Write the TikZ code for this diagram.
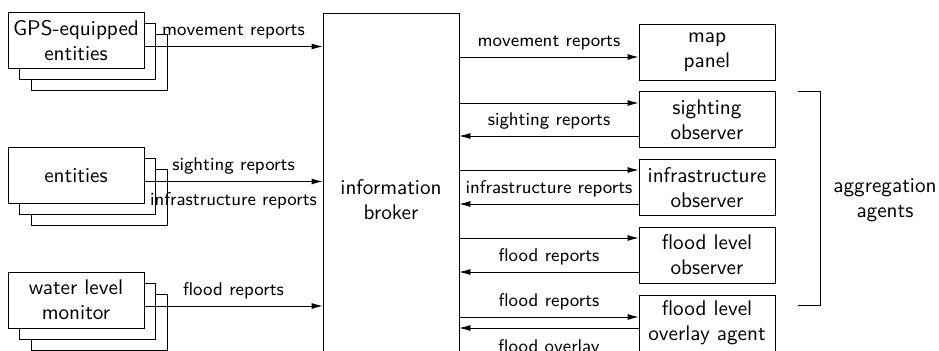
\documentclass[tikz,border=0pt]{standalone}
\usepackage{tikz}
\usetikzlibrary{arrows.meta,shadows}

\begin{document}
\begin{tikzpicture}[x=0.5pt,y=-0.5pt,
    box/.style={draw,fill=white,align=center,minimum width=68pt,minimum height=28pt,inner sep=2pt,font=\sffamily\fontsize{10.6}{12.5}\selectfont},
    stack/.style={box,copy shadow={shadow xshift=11.5pt,shadow yshift=-11pt},copy shadow={shadow xshift=5.75pt,shadow yshift=-5.5pt}},
    msg/.style={-{Latex[length=5.5pt,width=3pt]}},
    lbl/.style={font=\sffamily\fontsize{9.2}{11}\selectfont}]
    \useasboundingbox (0,0) rectangle (939,350);
    \clip (0,0) rectangle (939,350);

    \node[stack] (gps) at (76,40.5) {GPS-equipped\\entities};
    \node[stack] (ent) at (76,175.5) {entities};
    \node[stack] (water) at (76,300) {water level\\monitor};

    \node[box,minimum height=187pt] (broker) at (391,200) {information\\broker};

    \node[box] (map) at (707,52) {map\\panel};
    \node[box] (sight) at (707,119.5) {sighting\\observer};
    \node[box] (infra) at (707,187.5) {infrastructure\\observer};
    \node[box] (flood) at (707,255) {flood level\\observer};
    \node[box] (overlay) at (707,323) {flood level\\overlay agent};

    \draw[msg] ([yshift=-3pt]gps.east) -- ([yshift=-3pt]gps.east -| broker.west) node[lbl,midway,above] {movement reports};
    \draw[msg] ([yshift=-3pt]ent.east) -- ([yshift=-3pt]ent.east -| broker.west) node[lbl,midway,above] {sighting reports} node[lbl,midway,below=2pt] {infrastructure reports};
    \draw[msg] ([yshift=-3pt]water.east) -- ([yshift=-3pt]water.east -| broker.west) node[lbl,midway,above] {flood reports};

    \draw[msg] ([yshift=-2.5pt]map.west -| broker.east) -- ([yshift=-2.5pt]map.west) node[lbl,midway,above] {movement reports};
    \draw[msg] ([yshift=8.25pt]sight.west -| broker.east) -- ([yshift=8.25pt]sight.west);
    \draw[msg] ([yshift=-8.25pt]sight.west) -- ([yshift=-8.25pt]sight.west -| broker.east) node[lbl,midway,above] {sighting reports};
    \draw[msg] ([yshift=8.75pt]infra.west -| broker.east) -- ([yshift=8.75pt]infra.west);
    \draw[msg] ([yshift=-8.25pt]infra.west) -- ([yshift=-8.25pt]infra.west -| broker.east) node[lbl,midway,above] {infrastructure reports};
    \draw[msg] ([yshift=8.5pt]flood.west -| broker.east) -- ([yshift=8.5pt]flood.west);
    \draw[msg] ([yshift=-8.5pt]flood.west) -- ([yshift=-8.5pt]flood.west -| broker.east) node[lbl,midway,above] {flood reports};
    \draw[msg] ([yshift=3pt]overlay.west -| broker.east) -- ([yshift=3pt]overlay.west) node[lbl,midway,above] {flood reports};
    \draw[msg] ([yshift=-2.5pt]overlay.west) -- ([yshift=-2.5pt]overlay.west -| broker.east) node[lbl,midway,below=2pt] {flood overlay};

    \node[align=center,font=\sffamily\fontsize{10.6}{12.5}\selectfont] (agg) at (885,200) {aggregation\\agents};
    \draw (798,91) -| (820,305) -- (798,305);
\end{tikzpicture}
\end{document}
